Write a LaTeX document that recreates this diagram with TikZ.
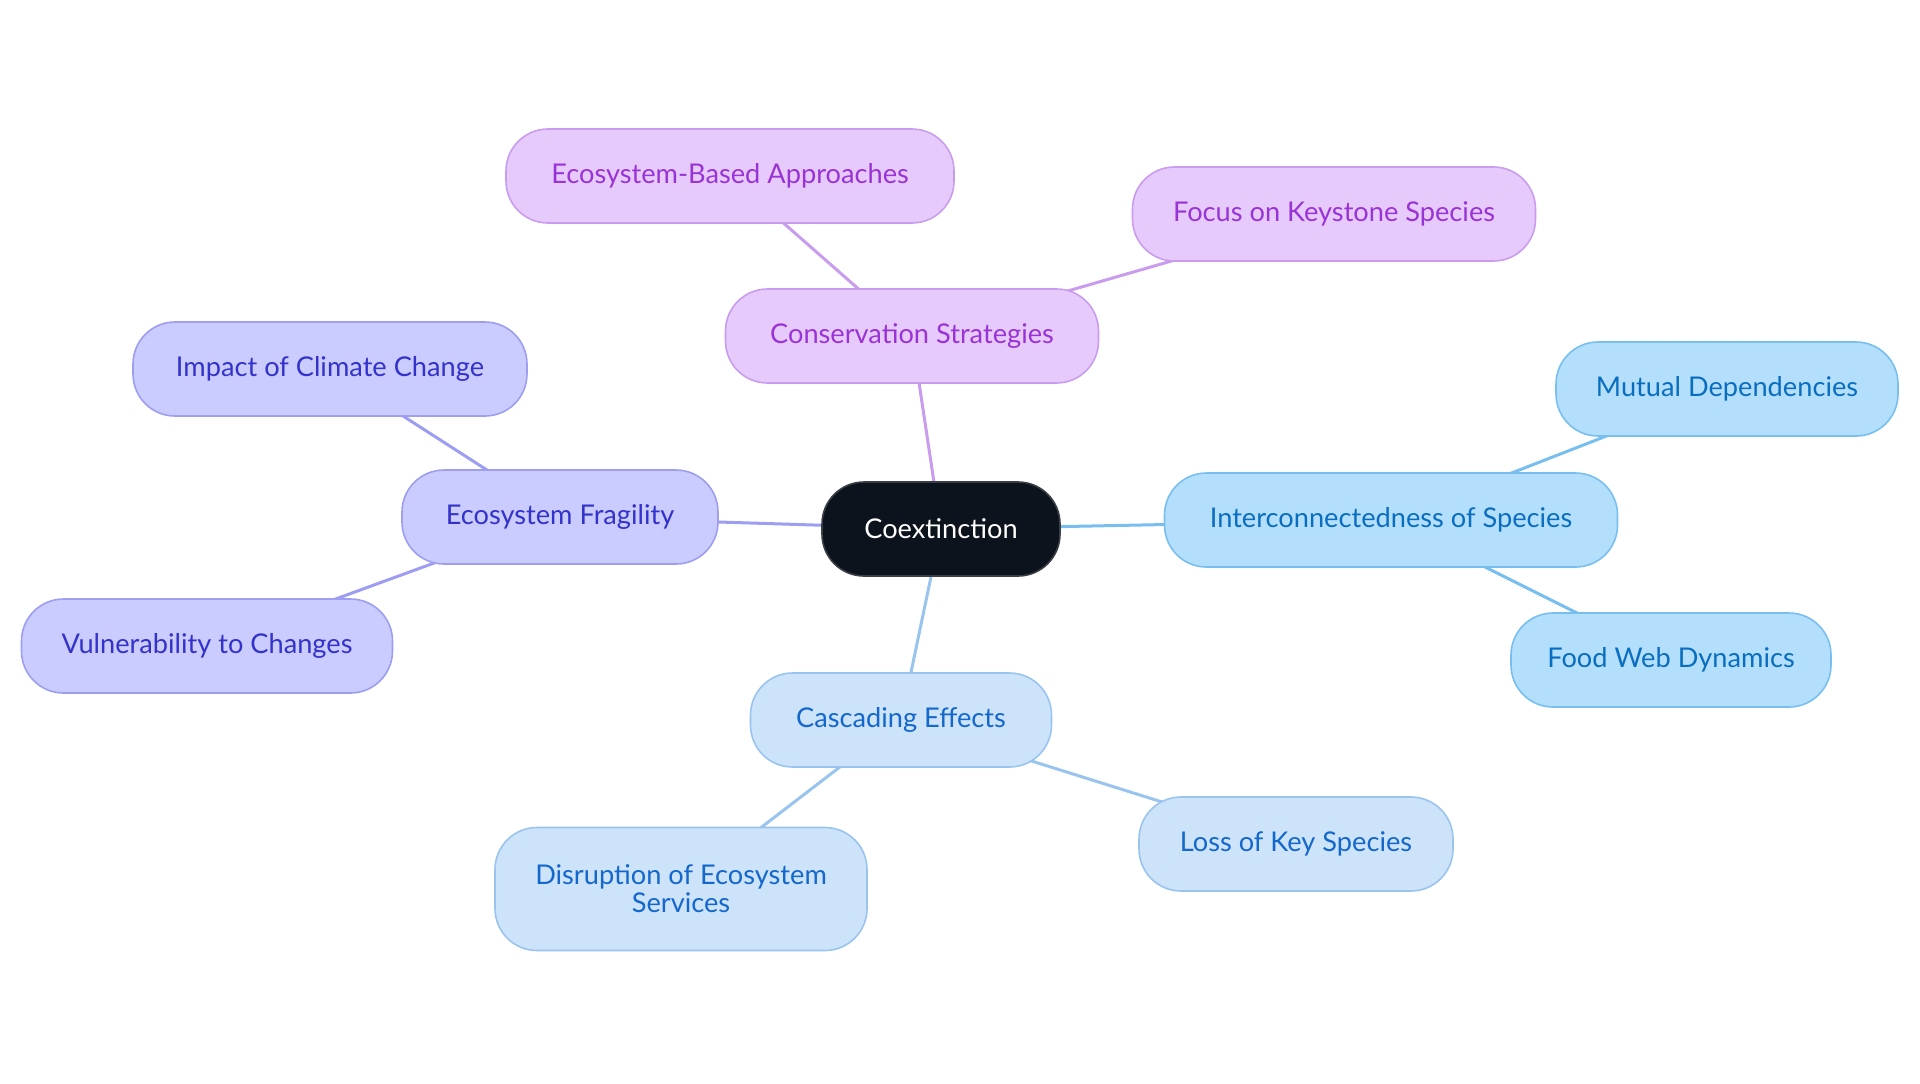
\documentclass[tikz,border=0pt]{standalone}
\usepackage{fontspec}
\setmainfont{Lato}
\usetikzlibrary{backgrounds}
\definecolor{rootfill}{HTML}{0D131C}
\definecolor{rootdraw}{HTML}{3A3F46}
\definecolor{pfill}{HTML}{E7CAFC}
\definecolor{pdraw}{HTML}{C99CEE}
\definecolor{ptext}{HTML}{9A33D6}
\definecolor{iFill}{HTML}{CACBFE}
\definecolor{idraw}{HTML}{9D9EF1}
\definecolor{itext}{HTML}{3333CC}
\definecolor{bfill}{HTML}{B3DFFC}
\definecolor{bdraw}{HTML}{78BFF0}
\definecolor{btext}{HTML}{0A6EC0}
\definecolor{cfill}{HTML}{CDE3FA}
\definecolor{cdraw}{HTML}{99C4EE}
\definecolor{ctext}{HTML}{1467CC}
\tikzset{
  x=0.5pt, y=-0.5pt,
  box/.style={rectangle, rounded corners=21pt, line width=0.8pt, minimum height=47pt,
    inner sep=0pt, align=center, font=\fontsize{13.6}{14}\selectfont},
  rootbox/.style={box, fill=rootfill, draw=rootdraw, text=white},
  pbox/.style={box, fill=pfill, draw=pdraw, text=ptext},
  ibox/.style={box, fill=iFill, draw=idraw, text=itext},
  bbox/.style={box, fill=bfill, draw=bdraw, text=btext},
  cbox/.style={box, fill=cfill, draw=cdraw, text=ctext},
  link/.style={line width=1.5pt},
}
\begin{document}
\begin{tikzpicture}
\useasboundingbox (0,0) rectangle (1920,1083);
\node[rootbox, minimum width=119pt] (root) at (941,529) {Coextinction};
\node[pbox, minimum width=186.5pt] (cons) at (912,336) {Conservation Strategies};
\node[pbox, minimum width=224pt] (eba) at (730,176) {Ecosystem-Based Approaches};
\node[pbox, minimum width=201.5pt] (fks) at (1334,214) {Focus on Keystone Species};
\node[ibox, minimum width=158pt] (frag) at (560,517) {Ecosystem Fragility};
\node[ibox, minimum width=197pt] (icc) at (330,369) {Impact of Climate Change};
\node[ibox, minimum width=185.5pt] (vul) at (207,646) {Vulnerability to Changes};
\node[bbox, minimum width=226.5pt] (inter) at (1391,520) {Interconnectedness of Species};
\node[bbox, minimum width=171pt] (mut) at (1727,389) {Mutual Dependencies};
\node[bbox, minimum width=160pt] (food) at (1671,660) {Food Web Dynamics};
\node[cbox, minimum width=150.5pt] (casc) at (901,720) {Cascading Effects};
\node[cbox, minimum width=157pt] (loss) at (1296,844) {Loss of Key Species};
\node[cbox, minimum width=186pt, minimum height=61.5pt] (dis) at (681,889) {Disruption of Ecosystem\\Services};
\begin{scope}[on background layer]
\draw[link, pdraw] (root.center) -- (cons.center);
\draw[link, pdraw] (cons.center) -- (eba.center);
\draw[link, pdraw] (cons.center) -- (fks.center);
\draw[link, idraw] (root.center) -- (frag.center);
\draw[link, idraw] (frag.center) -- (icc.center);
\draw[link, idraw] (frag.center) -- (vul.center);
\draw[link, bdraw] (root.center) -- (inter.center);
\draw[link, bdraw] (inter.center) -- (mut.center);
\draw[link, bdraw] (inter.center) -- (food.center);
\draw[link, cdraw] (root.center) -- (casc.center);
\draw[link, cdraw] (casc.center) -- (dis.center);
\draw[link, cdraw] (casc.center) -- (loss.center);
\end{scope}
\end{tikzpicture}
\end{document}
